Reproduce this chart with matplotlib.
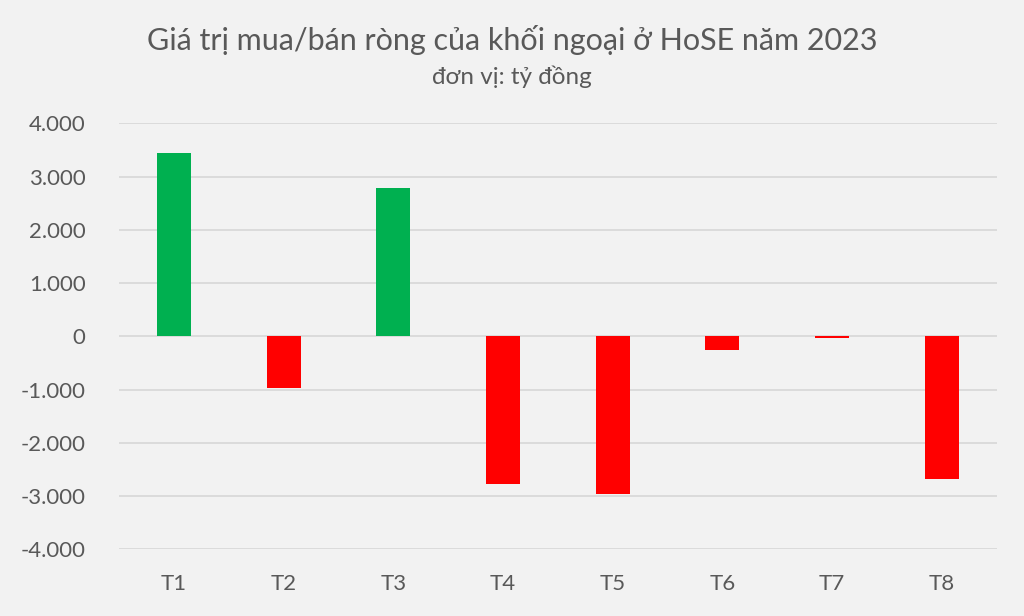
import matplotlib.pyplot as plt
from matplotlib.ticker import FuncFormatter

months = ["T1", "T2", "T3", "T4", "T5", "T6", "T7", "T8"]
net_values = [3440, -970, 2780, -2770, -2960, -265, -25, -2675]
y_ticks = [-4000, -3000, -2000, -1000, 0, 1000, 2000, 3000, 4000]

bg = "#f2f2f2"
text_col = "#595959"
plt.rcParams['font.family'] = ['Lato', 'DejaVu Sans']

fig = plt.figure(figsize=(10.24, 6.16), dpi=100, facecolor=bg)
ax = fig.add_axes([119 / 1024, 1 - 549.3 / 616, (996.5 - 119) / 1024, (549.3 - 123.3) / 616])
ax.set_facecolor(bg)

colors = ["#00b050" if v >= 0 else "#ff0000" for v in net_values]
ax.bar(months, net_values, width=0.31, color=colors, zorder=3)

ax.set_ylim(-4000, 4000)
ax.set_xlim(-0.5, len(months) - 0.5)
ax.set_yticks(y_ticks)
ax.yaxis.set_major_formatter(FuncFormatter(lambda v, p: f"{int(v):,}".replace(",", ".")))
ax.grid(axis='y', color="#d9d9d9", linewidth=1.3, zorder=0)
for s in ax.spines.values():
    s.set_visible(False)
ax.tick_params(axis='both', length=0, labelsize=16, labelcolor=text_col)
ax.tick_params(axis='y', pad=24)
ax.tick_params(axis='x', pad=18)

fig.text(0.5, 1 - 40 / 616, "Giá trị mua/bán ròng của khối ngoại ở HoSE năm 2023",
         ha='center', va='center', fontsize=22, color=text_col)
fig.text(0.5, 1 - 77 / 616, "đơn vị: tỷ đồng", ha='center', va='center',
         fontsize=17.5, color=text_col)

fig.savefig("out.png", dpi=100, facecolor=bg)
